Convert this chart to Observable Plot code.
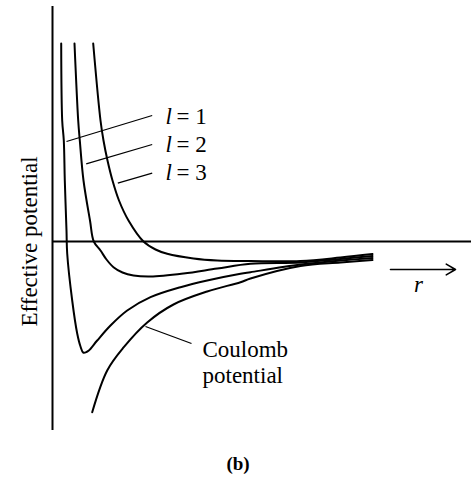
<!DOCTYPE html>
<html><head><meta charset="utf-8">
<script src="https://cdn.jsdelivr.net/npm/d3@7"></script>
<script src="https://cdn.jsdelivr.net/npm/@observablehq/plot@0.6"></script>
<style>
body{margin:0;background:#fff;font-family:'Liberation Serif'}
#wrap{position:relative;width:471px;height:481px}
#caption{position:absolute;left:0;top:453px;width:476px;text-align:center;font:bold 19px/22px 'Liberation Serif'}
</style>
</head><body><div id="wrap"><div id="chart"></div><div id="caption">(b)</div></div>
<script>
// Effective potential curves (r in arbitrary units, V in arbitrary units)
const seriesNames = ["l = 1", "l = 2", "l = 3", "Coulomb"];
const l1R = [0.435, 0.485, 0.565, 0.615, 0.7, 0.735, 0.985, 1.235, 1.4, 1.535, 1.7, 1.815, 2.235, 2.9, 3.735, 4.9, 6.4, 7.735, 9.4, 9.9, 12.4, 14.4, 16.0];
const l1V = [9.9, 6.05, 5.05, 3.05, 0.55, -0.6, -2.95, -4.6, -5.25, -5.55, -5.525, -5.45, -4.95, -4.2, -3.45, -2.785, -2.285, -1.95, -1.615, -1.535, -1.15, -0.95, -0.825];
const l2R = [1.1, 1.285, 1.365, 1.55, 1.875, 2.065, 2.4, 2.7, 3.05, 3.5, 4.05, 4.9, 6.55, 8.235, 9.9, 12.4, 14.4, 16.0];
const l2V = [9.9, 6.05, 5.05, 3.05, 1.05, 0, -0.45, -0.9, -1.285, -1.55, -1.7, -1.75, -1.6, -1.35, -1.115, -1.05, -0.875, -0.725];
const l3R = [2.035, 2.4, 2.55, 2.75, 3.0, 3.325, 3.8, 4.55, 5.15, 5.735, 7.05, 8.235, 9.9, 12.4, 14.4, 16.0];
const l3V = [9.9, 6.05, 5.05, 4.05, 3.05, 2.05, 1.05, 0, -0.4, -0.615, -0.85, -0.95, -0.975, -0.975, -0.8, -0.625];
const cR = [1.985, 2.735, 3.565, 4.735, 6.05, 7.735, 9.4, 9.9, 12.4, 14.4, 16.0];
const cV = [-8.535, -6.45, -5.285, -4.05, -3.15, -2.5, -2.035, -1.85, -1.225, -1.05, -0.925];

// Labels
const lLabels = ["= 1", "= 2", "= 3"];
const lLabelV = [6.22, 4.82, 3.42];
const leaderR1 = [0.7, 1.685, 3.265, 4.65];
const leaderV1 = [5.0, 3.885, 2.915, -4.25];
const leaderR2 = [4.985, 4.985, 4.985, 6.95];
const leaderV2 = [6.3, 4.85, 3.415, -5.1];
const coulombLines = ["Coulomb", "potential"];
const coulombV = [-5.43, -6.73];

const rDomain = [0, 20.95];
const vDomain = [-9.45, 11.75];

const rows = [];
[[l1R, l1V], [l2R, l2V], [l3R, l3V], [cR, cV]].forEach(([R, V], i) => {
  R.forEach((r, j) => rows.push({series: seriesNames[i], r, V: V[j]}));
});
const leaders = leaderR1.map((r, i) => ({r1: r, v1: leaderV1[i], r2: leaderR2[i], v2: leaderV2[i]}));

const font = "Liberation Serif";
const chart = Plot.plot({
  width: 471,
  height: 445,
  marginLeft: 52,
  marginRight: 0,
  marginTop: 6,
  marginBottom: 15,
  x: {domain: rDomain, axis: null},
  y: {domain: vDomain, axis: null},
  marks: [
    Plot.ruleX([0], {y1: vDomain[0], y2: vDomain[1], strokeWidth: 2}),
    Plot.ruleY([0], {x1: rDomain[0], x2: rDomain[1], strokeWidth: 2}),
    Plot.line(rows, {x: "r", y: "V", z: "series", curve: "catmull-rom", stroke: "black", strokeWidth: 2}),
    Plot.link(leaders, {x1: "r1", y1: "v1", x2: "r2", y2: "v2", stroke: "black", strokeWidth: 1.3}),
    Plot.text(lLabelV, {x: 5.65, y: d => d, text: () => "l", fontSize: 23, fontStyle: "italic", textAnchor: "start", fontFamily: font}),
    Plot.text(lLabels, {x: 6.2, y: (d, i) => lLabelV[i], text: d => d, fontSize: 23, textAnchor: "start", fontFamily: font}),
    Plot.text(coulombLines, {x: 7.5, y: (d, i) => coulombV[i], text: d => d, fontSize: 23, textAnchor: "start", fontFamily: font}),
    Plot.arrow([{x1: 16.9, x2: 20.15, y: -1.4}], {x1: "x1", x2: "x2", y1: "y", y2: "y", stroke: "black", strokeWidth: 1.6, headLength: 10}),
    Plot.text(["r"], {x: 18.3, y: -2.18, text: d => d, fontSize: 23, fontStyle: "italic", fontFamily: font}),
    Plot.text(["Effective potential"], {x: -1.15, y: 0, text: d => d, rotate: -90, fontSize: 23, fontFamily: font})
  ]
});
document.getElementById("chart").append(chart);
</script>
</body></html>
